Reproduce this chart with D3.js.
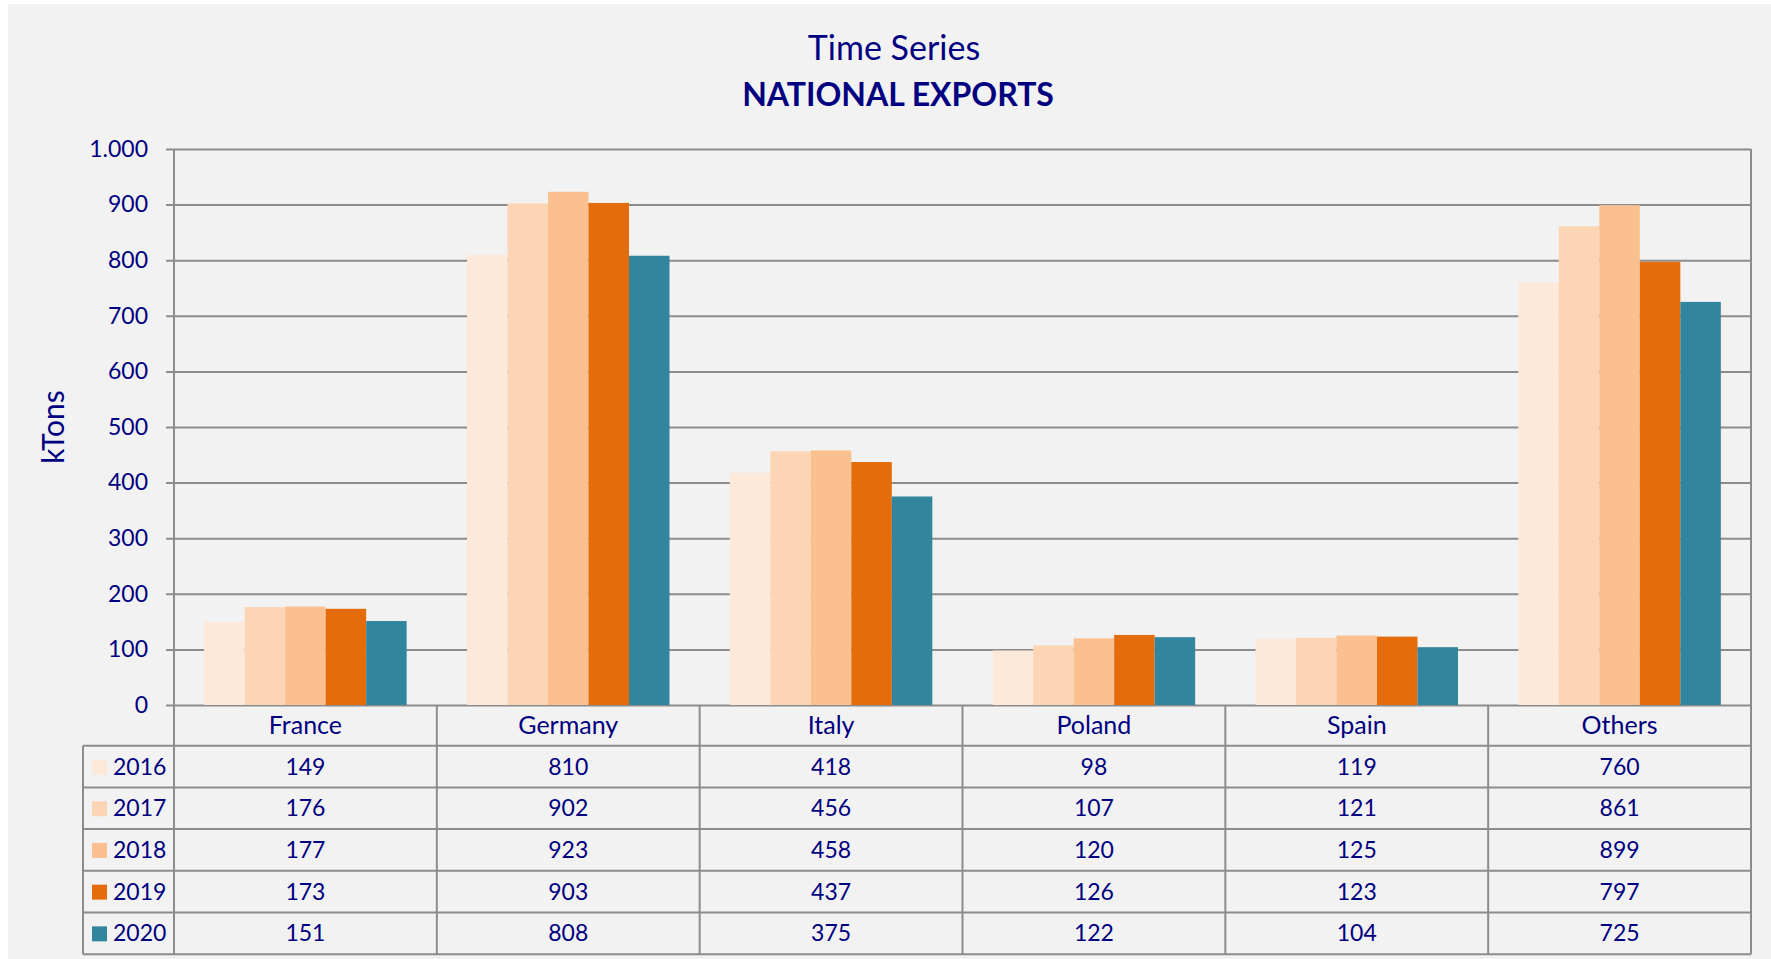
<!DOCTYPE html>
<html>
<head>
<meta charset="utf-8">
<script src="https://cdn.jsdelivr.net/npm/d3@7"></script>
<style>
  body { margin: 0; background: #ffffff; }
  text { font-family: Lato, "Noto Sans", sans-serif; fill: #000080; }
</style>
</head>
<body>
<div id="chart" style="width:1771px;height:959px;"></div>
<script>
const categories = ["France", "Germany", "Italy", "Poland", "Spain", "Others"];
const years = ["2016", "2017", "2018", "2019", "2020"];
const values2016 = [149, 810, 418, 98, 119, 760];
const values2017 = [176, 902, 456, 107, 121, 861];
const values2018 = [177, 923, 458, 120, 125, 899];
const values2019 = [173, 903, 437, 126, 123, 797];
const values2020 = [151, 808, 375, 122, 104, 725];
const yTicks = [0, 100, 200, 300, 400, 500, 600, 700, 800, 900, 1000];
const colors = ["#fde9d9", "#fcd5b4", "#fac08f", "#e46c0a", "#31859c"];

const seriesValues = [values2016, values2017, values2018, values2019, values2020];
const rows = years.map((yr, i) => ({year: yr, color: colors[i], values: seriesValues[i]}));

const W = 1771, H = 959;
const plot = {left: 174, right: 1751, top: 149, bottom: 705};
const headerH = 40.7, rowH = 41.7, legendLeft = 83;
const gridColor = "#8c8c8c";

const svg = d3.select("#chart").append("svg")
    .attr("width", W)
    .attr("height", H);

svg.append("rect")
    .attr("x", 8).attr("y", 4)
    .attr("width", W - 8).attr("height", H - 4)
    .attr("fill", "#f2f2f2");

// titles
svg.append("text")
    .attr("x", 894).attr("y", 60)
    .attr("text-anchor", "middle")
    .style("font-size", "34px")
    .text("Time Series");

svg.append("text")
    .attr("x", 898).attr("y", 106)
    .attr("text-anchor", "middle")
    .style("font-size", "32px")
    .style("font-weight", "bold")
    .text("NATIONAL EXPORTS");

const x = d3.scaleBand()
    .domain(categories)
    .range([plot.left, plot.right])
    .padding(0);

const x1 = d3.scaleBand()
    .domain(years)
    .range([0, x.bandwidth()])
    .paddingInner(0)
    .paddingOuter(0.745);

const y = d3.scaleLinear()
    .domain([0, 1000])
    .range([plot.bottom, plot.top]);

// gridlines + y axis
const yAxis = svg.append("g")
    .attr("transform", `translate(${plot.left},0)`)
    .call(d3.axisLeft(y)
        .tickValues(yTicks)
        .tickSize(-(plot.right - plot.left))
        .tickPadding(26)
        .tickFormat(d => d3.format(",")(d).replace(",", ".")));

yAxis.select(".domain").remove();
yAxis.selectAll(".tick line")
    .attr("x1", -8)
    .attr("stroke", gridColor)
    .attr("stroke-width", 2);
yAxis.selectAll(".tick text")
    .style("font-size", "23px")
    .attr("fill", "#000080");

svg.append("text")
    .attr("transform", `translate(64, ${(plot.top + plot.bottom) / 2}) rotate(-90)`)
    .attr("text-anchor", "middle")
    .style("font-size", "30px")
    .text("kTons");

// bars
const groups = svg.append("g")
    .selectAll("g")
    .data(rows)
    .join("g")
    .attr("fill", d => d.color);

groups.selectAll("rect")
    .data(d => d.values.map((v, i) => ({year: d.year, cat: categories[i], value: v})))
    .join("rect")
    .attr("x", d => x(d.cat) + x1(d.year))
    .attr("y", d => y(d.value))
    .attr("width", x1.bandwidth())
    .attr("height", d => y(0) - y(d.value));

// frame of plot and table lines
const frame = svg.append("g")
    .attr("stroke", gridColor)
    .attr("stroke-width", 2)
    .attr("fill", "none");

const tableBottom = plot.bottom + headerH + rowH * years.length;

frame.append("line")
    .attr("x1", plot.left).attr("x2", plot.left)
    .attr("y1", plot.top).attr("y2", tableBottom);
frame.append("line")
    .attr("x1", plot.right).attr("x2", plot.right)
    .attr("y1", plot.top).attr("y2", tableBottom);

const table = svg.append("g");

// vertical separators between categories
categories.slice(1).forEach(c => {
    frame.append("line")
        .attr("x1", x(c)).attr("x2", x(c))
        .attr("y1", plot.bottom).attr("y2", tableBottom);
});

// horizontal row lines
for (let i = 0; i <= years.length; i++) {
    const yy = plot.bottom + headerH + rowH * i;
    frame.append("line")
        .attr("x1", legendLeft).attr("x2", plot.right)
        .attr("y1", yy).attr("y2", yy);
}
frame.append("line")
    .attr("x1", legendLeft).attr("x2", legendLeft)
    .attr("y1", plot.bottom + headerH).attr("y2", tableBottom);

// category header
table.selectAll(".cat")
    .data(categories)
    .join("text")
    .attr("class", "cat")
    .attr("x", d => x(d) + x.bandwidth() / 2)
    .attr("y", plot.bottom + headerH / 2)
    .attr("dy", "0.35em")
    .attr("text-anchor", "middle")
    .style("font-size", "25px")
    .text(d => d);

const rowG = table.selectAll(".row")
    .data(rows)
    .join("g")
    .attr("class", "row")
    .attr("transform", (d, i) => `translate(0, ${plot.bottom + headerH + rowH * i + rowH / 2})`);

rowG.append("rect")
    .attr("x", 92).attr("y", -7)
    .attr("width", 15).attr("height", 15)
    .attr("fill", d => d.color);

rowG.append("text")
    .attr("x", 113)
    .attr("dy", "0.35em")
    .style("font-size", "23px")
    .text(d => d.year);

rowG.selectAll(".val")
    .data(d => d.values.map((v, i) => ({cat: categories[i], value: v})))
    .join("text")
    .attr("class", "val")
    .attr("x", d => x(d.cat) + x.bandwidth() / 2)
    .attr("dy", "0.35em")
    .attr("text-anchor", "middle")
    .style("font-size", "23px")
    .text(d => d.value);
</script>
</body>
</html>
